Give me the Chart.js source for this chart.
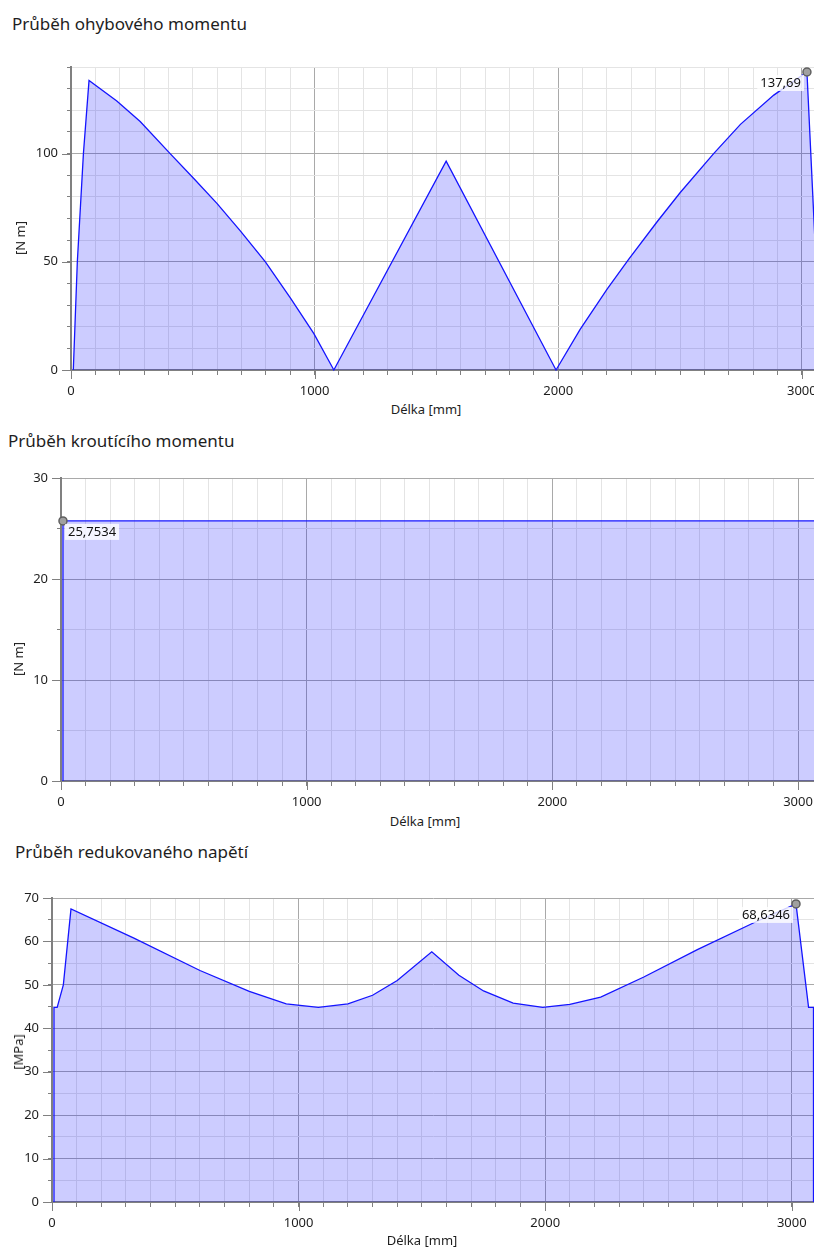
<!DOCTYPE html>
<html>
<head>
<meta charset="utf-8">
<script src="https://cdn.jsdelivr.net/npm/chart.js@4/dist/chart.umd.min.js"></script>
<style>
  body { margin: 0; background: #fff; font-family: 'Noto Sans', sans-serif; color: #1e1e1e; }
  #page { position: relative; width: 814px; height: 1248px; overflow: hidden; }
  canvas { position: absolute; left: 0; }
  .head { position: absolute; font-size: 17px; line-height: 20px; white-space: nowrap; }
  .xt, .yt { position: absolute; font-size: 13px; line-height: 16px; white-space: nowrap; transform: translate(-50%, -50%); }
  .yt { transform: translate(-50%, -50%) rotate(-90deg); }
</style>
</head>
<body>
<div id="page">
  <div class="head" style="left:12px;top:14px">Průběh ohybového momentu</div>
  <canvas id="bend" width="814" height="343" style="top:57px"></canvas>
  <div class="yt" style="left:20px;top:238px">[N m]</div>
  <div class="xt" style="left:426px;top:409px">Délka [mm]</div>

  <div class="head" style="left:8px;top:431px">Průběh kroutícího momentu</div>
  <canvas id="torque" width="814" height="343" style="top:468px"></canvas>
  <div class="yt" style="left:18px;top:659px">[N m]</div>
  <div class="xt" style="left:425px;top:821px">Délka [mm]</div>

  <div class="head" style="left:15px;top:842px">Průběh redukovaného napětí</div>
  <canvas id="stress" width="814" height="344" style="top:888px"></canvas>
  <div class="yt" style="left:18px;top:1052px">[MPa]</div>
  <div class="xt" style="left:422px;top:1240px">Délka [mm]</div>
</div>

<script>
// ohybovy moment [N m] podle delky [mm]
const bendPos = [9.5, 26, 51, 74, 188, 284, 407, 503, 599, 695, 798, 901, 997, 1079,
                 1540, 1991, 2090, 2200, 2289, 2406, 2501, 2638, 2748, 2885, 3021, 3079, 3095];
const bendVal = [0, 50, 100, 133.8, 124.3, 114.8, 100, 88.6, 77, 64.3, 50, 33.2, 16.8, 0,
                 96.5, 0, 18.8, 37.2, 51.1, 68.5, 82, 100, 113.5, 127, 137.69, 0, 0];

// krouticí moment [N m]
const torquePos = [8, 8, 3090, 3090];
const torqueVal = [0, 25.7534, 25.7534, 0];

// redukovane napeti [MPa]
const stressPos = [8, 8, 21, 46, 77, 330, 600, 800, 950, 1080, 1200, 1300, 1400, 1540,
                   1650, 1750, 1870, 1990, 2100, 2225, 2400, 2617, 2846, 3017, 3068, 3088, 3088];
const stressVal = [0, 44.8, 44.8, 50, 67.5, 60.8, 53.3, 48.5, 45.6, 44.8, 45.6, 47.6, 51, 57.6,
                   52.2, 48.6, 45.8, 44.8, 45.5, 47.2, 51.8, 58.1, 64.3, 68.6346, 44.8, 44.8, 0];

const MAJOR = '#a9a9a9';
const MINOR = '#e4e4e4';
const AXIS = '#808080';

Chart.defaults.font.family = "'Noto Sans', sans-serif";
Chart.defaults.font.size = 13;
Chart.defaults.color = '#1e1e1e';

// popisek maxima vedle zvyrazneneho bodu
const peakLabel = {
  id: 'peakLabel',
  afterDatasetsDraw(chart, args, opts) {
    const pt = chart.getDatasetMeta(0).data[opts.index];
    if (!pt) return;
    const ctx = chart.ctx;
    ctx.save();
    ctx.font = "13px 'Noto Sans'";
    const w = ctx.measureText(opts.text).width;
    const left = opts.side === 'right' ? pt.x + 5 : pt.x - 6 - w;
    const cy = pt.y + 11;
    ctx.fillStyle = 'rgba(255,255,255,0.8)';
    ctx.fillRect(left - 3, cy - 8, w + 6, 16);
    ctx.fillStyle = '#111';
    ctx.textBaseline = 'middle';
    ctx.fillText(opts.text, left, cy);
    ctx.restore();
  }
};

// delsi carky u popsanych hodnot
const majorTicks = {
  id: 'majorTicks',
  afterDraw(chart, args, opts) {
    const {ctx, chartArea, scales: {x, y}} = chart;
    ctx.save();
    ctx.strokeStyle = AXIS;
    ctx.lineWidth = 1;
    ctx.beginPath();
    x.ticks.forEach(t => {
      if (t.value % opts.xMajor !== 0) return;
      const px = Math.round(x.getPixelForValue(t.value)) + 0.5;
      ctx.moveTo(px, chartArea.bottom);
      ctx.lineTo(px, chartArea.bottom + 9);
    });
    y.ticks.forEach(t => {
      if (t.value % opts.yMajor !== 0) return;
      const py = Math.round(y.getPixelForValue(t.value)) + 0.5;
      ctx.moveTo(chartArea.left - 9, py);
      ctx.lineTo(chartArea.left, py);
    });
    ctx.stroke();
    ctx.restore();
  }
};

// pravidelne tiky po kroku, bez dopocitane posledni hodnoty
const stepTicks = step => s => {
  const t = [];
  for (let v = 0; v <= s.max + 1e-9; v += step) t.push({value: v});
  s.ticks = t;
};

function makeChart(id, pos, val, cfg) {
  const peak = val.indexOf(Math.max(...val));
  const fmt = v => String(v).replace('.', ',');
  new Chart(document.getElementById(id), {
    type: 'line',
    data: {
      datasets: [{
        data: pos.map((x, i) => ({x: x, y: val[i]})),
        borderColor: '#1414ff',
        borderWidth: 1.3,
        backgroundColor: 'rgba(0,0,255,0.2)',
        fill: 'origin',
        tension: 0,
        clip: false,
        pointRadius: c => c.dataIndex === peak ? 4 : 0,
        pointHoverRadius: 0,
        pointBackgroundColor: '#a0a0a0',
        pointBorderColor: '#606060',
        pointBorderWidth: 1.5
      }]
    },
    options: {
      responsive: false,
      animation: false,
      events: [],
      layout: {padding: {top: 10, left: 0, right: 0, bottom: 0}},
      plugins: {
        legend: {display: false},
        tooltip: {enabled: false},
        peakLabel: {index: peak, text: fmt(val[peak]), side: cfg.side},
        majorTicks: {xMajor: 1000, yMajor: cfg.yMajor}
      },
      scales: {
        x: {
          type: 'linear',
          min: 0,
          max: cfg.xMax,
          afterBuildTicks: stepTicks(100),
          ticks: {
            autoSkip: false, maxRotation: 0, padding: 8,
            callback: v => v % 1000 === 0 ? String(v) : ''
          },
          grid: {
            color: c => c.tick && c.tick.value % 1000 === 0 ? MAJOR : MINOR,
            tickLength: 5,
            tickColor: AXIS
          },
          border: {color: AXIS, width: 2},
          afterFit: s => { s.height = 30; s.paddingLeft = 0; s.paddingRight = 0; }
        },
        y: {
          min: 0,
          max: cfg.yMax,
          afterBuildTicks: stepTicks(cfg.yStep),
          ticks: {
            autoSkip: false, padding: 9,
            callback: v => v % cfg.yMajor === 0 ? String(v) : ''
          },
          grid: {
            color: c => c.tick && c.tick.value % cfg.yMajor === 0 ? MAJOR : MINOR,
            tickLength: 4,
            tickColor: AXIS
          },
          border: {color: AXIS, width: 2},
          afterFit: s => { s.width = cfg.left; s.paddingTop = 0; s.paddingBottom = 0; }
        }
      }
    },
    plugins: [peakLabel, majorTicks]
  });
}

makeChart('bend', bendPos, bendVal, {xMax: 3050, yMax: 140, yStep: 10, yMajor: 50, left: 71, side: 'left'});
makeChart('torque', torquePos, torqueVal, {xMax: 3065, yMax: 30, yStep: 5, yMajor: 10, left: 61, side: 'right'});
makeChart('stress', stressPos, stressVal, {xMax: 3090, yMax: 70, yStep: 5, yMajor: 10, left: 52, side: 'left'});
</script>
</body>
</html>
